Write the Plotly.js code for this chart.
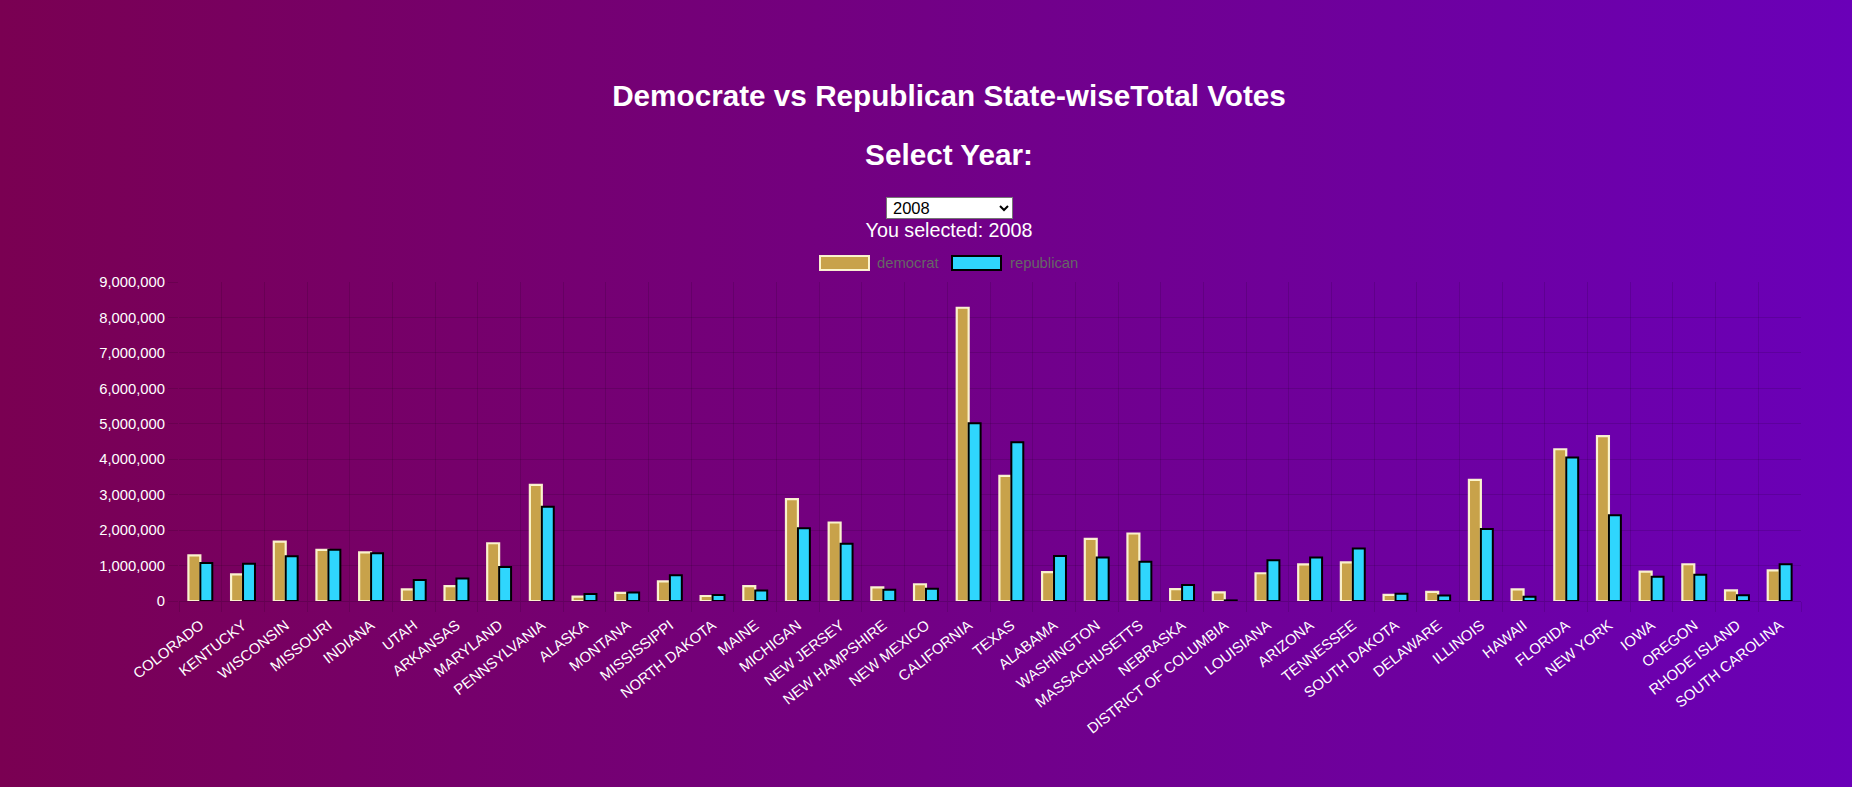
<!DOCTYPE html>
<html>
<head>
<meta charset="utf-8">
<script src="https://cdn.plot.ly/plotly-3.0.1.min.js"></script>
<style>
html,body{margin:0;padding:0;}
body{width:1852px;height:787px;overflow:hidden;position:relative;
  background:linear-gradient(to right,#7a0052,#6a00b8);
  font-family:"Liberation Sans",Arial,Helvetica,sans-serif;}
#chart{position:absolute;left:0;top:0;width:1852px;height:787px;z-index:1;}
.hd{position:absolute;left:0;width:1898px;text-align:center;color:#fff;white-space:nowrap;z-index:2;margin:0;}
#title{top:81px;font-size:29.7px;line-height:29.7px;font-weight:bold;}
#sub{top:140px;font-size:29.7px;line-height:29.7px;font-weight:bold;}
#you{top:221px;font-size:19.7px;line-height:19.7px;}
#sel{position:absolute;left:886px;top:197px;width:127px;height:22px;z-index:2;
  font-family:"Liberation Sans",Arial,sans-serif;font-size:16.5px;color:#000;
  background:#fff;border:1px solid #767676;border-radius:0;padding:0 0 0 2px;box-sizing:border-box;}
</style>
</head>
<body>
<h2 class="hd" id="title">Democrate vs Republican State-wiseTotal Votes</h2>
<h2 class="hd" id="sub">Select Year:</h2>
<select id="sel"><option>2008</option></select>
<div class="hd" id="you">You selected: 2008</div>
<div id="chart"></div>
<script>
const states = ["COLORADO","KENTUCKY","WISCONSIN","MISSOURI","INDIANA","UTAH","ARKANSAS","MARYLAND","PENNSYLVANIA","ALASKA","MONTANA","MISSISSIPPI","NORTH DAKOTA","MAINE","MICHIGAN","NEW JERSEY","NEW HAMPSHIRE","NEW MEXICO","CALIFORNIA","TEXAS","ALABAMA","WASHINGTON","MASSACHUSETTS","NEBRASKA","DISTRICT OF COLUMBIA","LOUISIANA","ARIZONA","TENNESSEE","SOUTH DAKOTA","DELAWARE","ILLINOIS","HAWAII","FLORIDA","NEW YORK","IOWA","OREGON","RHODE ISLAND","SOUTH CAROLINA"];
const democrat = [1289000,752000,1677000,1442000,1374000,328000,422000,1629000,3276000,124000,232000,555000,141000,422000,2873000,2215000,385000,472000,8274000,3529000,813000,1751000,1904000,333000,246000,783000,1035000,1087000,171000,255000,3419000,326000,4282000,4650000,829000,1037000,297000,862000];
const republican = [1074000,1048000,1262000,1446000,1346000,596000,638000,960000,2656000,194000,243000,725000,169000,295000,2049000,1613000,317000,347000,5012000,4479000,1267000,1229000,1109000,453000,17000,1148000,1230000,1479000,203000,152000,2031000,121000,4046000,2418000,682000,738000,165000,1035000];
const seriesNames = ["democrat","republican"];

const demFill = "#c8a24a", demLine = "rgba(255,250,212,0.95)";
const repFill = "#2fd6fd", repLine = "#000000";
const grid = "rgba(0,0,0,0.12)";
const FONT = "Liberation Sans, Arial, Helvetica, sans-serif";

const L = 179, R = 1801, T = 282, B = 601;
const px = x => (x - L) / (R - L);
const py = y => (B - y) / (B - T);

const traces = [
  {type:"bar", name:seriesNames[0], x:states, y:democrat,
   marker:{color:demFill, line:{color:demLine, width:2.2}}},
  {type:"bar", name:seriesNames[1], x:states, y:republican,
   marker:{color:repFill, line:{color:repLine, width:2}}}
];

const layout = {
  width:1852, height:787,
  margin:{l:L, r:1852-R, t:T, b:787-B, pad:0},
  paper_bgcolor:"rgba(0,0,0,0)", plot_bgcolor:"rgba(0,0,0,0)",
  font:{family:FONT, color:"#fff", size:14.8},
  showlegend:false,
  barmode:"group", bargap:0.44, bargroupgap:0,
  xaxis:{type:"category", tickson:"boundaries", ticks:"outside", ticklen:10,
    tickcolor:grid, showgrid:true, gridcolor:grid, gridwidth:1,
    tickangle:-38, ticklabelstandoff:12, tickfont:{family:FONT, color:"#fff", size:14.8},
    showline:false, zeroline:false, automargin:false},
  yaxis:{range:[0,9000000], dtick:1000000, tick0:0, tickformat:",d",
    ticks:"outside", ticklen:10, tickcolor:grid, showgrid:true, gridcolor:grid,
    zeroline:true, zerolinecolor:"rgba(0,0,0,0.16)", zerolinewidth:1,
    tickfont:{family:FONT, color:"#fff", size:14.8}, showline:false, automargin:false},
  shapes:[
    {type:"rect", xref:"paper", yref:"paper", x0:px(820), x1:px(869), y0:py(270), y1:py(256),
     fillcolor:demFill, line:{color:demLine, width:2}},
    {type:"rect", xref:"paper", yref:"paper", x0:px(952), x1:px(1001), y0:py(270), y1:py(256),
     fillcolor:repFill, line:{color:repLine, width:2}}
  ],
  annotations:[
    {xref:"paper", yref:"paper", x:px(875), y:py(263), xanchor:"left", yanchor:"middle",
     text:seriesNames[0], showarrow:false, font:{family:FONT, color:"#666", size:14.8}},
    {xref:"paper", yref:"paper", x:px(1008), y:py(263), xanchor:"left", yanchor:"middle",
     text:seriesNames[1], showarrow:false, font:{family:FONT, color:"#666", size:14.8}}
  ]
};

Plotly.newPlot("chart", traces, layout, {staticPlot:true, displayModeBar:false});
</script>
</body>
</html>
